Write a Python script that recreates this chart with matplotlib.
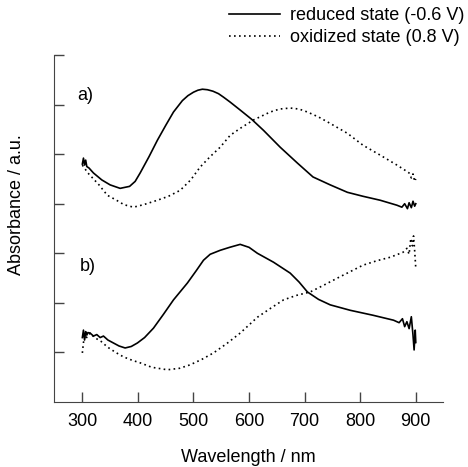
import matplotlib
matplotlib.use("Agg")
import matplotlib.pyplot as plt
import numpy as np

plt.rcParams['font.family'] = ['Liberation Sans', 'DejaVu Sans']

# a) reduced state
wl_a_red = [300, 302, 304, 306, 308, 312, 320, 335, 350, 368, 385, 395, 404, 420, 435, 450,
            464, 480, 490, 500, 508, 516, 525, 535, 545, 554, 566, 584, 605, 626, 656, 687, 715,
            746, 777, 805, 836, 866, 875, 880, 885, 888, 892, 895, 898, 900]
a_red = [4.80, 4.92, 4.78, 4.88, 4.75, 4.72, 4.62, 4.48, 4.38, 4.31, 4.35, 4.45, 4.62, 4.95, 5.28, 5.58,
         5.85, 6.08, 6.18, 6.25, 6.29, 6.31, 6.30, 6.27, 6.22, 6.15, 6.05, 5.89, 5.70, 5.48, 5.14, 4.82, 4.54,
         4.38, 4.23, 4.15, 4.07, 3.97, 3.93, 4.00, 3.90, 4.02, 3.92, 4.05, 3.95, 4.00]

# a) oxidized state
wl_a_ox = [300, 305, 310, 320, 330, 345, 360, 375, 392, 410, 435, 455, 476, 495, 512, 530, 548,
           566, 584, 608, 638, 655, 674, 690, 705, 725, 746, 777, 805, 836, 866, 880, 888, 892,
           895, 898, 900]
a_ox = [4.78, 4.70, 4.62, 4.50, 4.38, 4.17, 4.08, 3.98, 3.93, 3.98, 4.07, 4.15, 4.27, 4.48, 4.74, 4.95, 5.14,
        5.38, 5.52, 5.69, 5.85, 5.91, 5.93, 5.91, 5.85, 5.75, 5.62, 5.42, 5.18, 4.98, 4.78, 4.68, 4.62, 4.52,
        4.60, 4.45, 4.50]

# b) reduced state
wl_b_red = [300, 302, 304, 306, 308, 310, 314, 320, 326, 332, 338, 346, 356, 366, 377, 388, 399,
            412, 428, 446, 464, 489, 505, 518, 530, 548, 565, 584, 600, 615, 644, 674, 690, 705,
            725, 746, 782, 823, 860, 870, 876, 880, 884, 888, 892, 895, 897, 899, 900]
b_red = [1.30, 1.45, 1.25, 1.42, 1.35, 1.40, 1.39, 1.33, 1.36, 1.30, 1.33, 1.25, 1.19, 1.13, 1.09, 1.12, 1.19,
         1.30, 1.49, 1.77, 2.06, 2.40, 2.65, 2.86, 2.98, 3.06, 3.12, 3.18, 3.12, 3.00, 2.82, 2.60, 2.42, 2.22,
         2.07, 1.96, 1.85, 1.75, 1.65, 1.60, 1.68, 1.52, 1.62, 1.48, 1.72, 1.35, 1.05, 1.45, 1.20]

# b) oxidized state
wl_b_ox = [300, 302, 305, 308, 314, 322, 334, 345, 360, 374, 390, 404, 425, 453, 475, 494, 515, 536,
           560, 584, 615, 640, 662, 685, 710, 735, 759, 782, 805, 830, 854, 877, 884, 888, 891, 894,
           896, 898, 900]
b_ox = [0.99, 1.20, 1.35, 1.30, 1.39, 1.30, 1.22, 1.11, 1.00, 0.91, 0.84, 0.79, 0.70, 0.65, 0.68, 0.75, 0.86, 0.99,
        1.18, 1.39, 1.71, 1.90, 2.06, 2.15, 2.22, 2.36, 2.50, 2.63, 2.76, 2.85, 2.92, 3.02, 3.10, 2.98, 3.30, 3.15,
        3.35, 3.05, 2.70]

xticks = [300, 400, 500, 600, 700, 800, 900]
yticks = [1, 2, 3, 4, 5, 6, 7]

fs = 13
fig = plt.figure(figsize=(4.68, 4.67), dpi=100)
ax = fig.add_axes([0.1154, 0.1392, 0.8312, 0.743])

dot = (0, (1, 2))
ax.plot(wl_a_red, a_red, 'k-', lw=1.2, label="reduced state (-0.6 V)")
ax.plot(wl_a_ox, a_ox, color='k', ls=dot, lw=1.2, label="oxidized state (0.8 V)")
ax.plot(wl_b_red, b_red, 'k-', lw=1.2)
ax.plot(wl_b_ox, b_ox, color='k', ls=dot, lw=1.2)

ax.text(291, 6.19, "a)", fontsize=fs, va='center')
ax.text(295, 2.74, "b)", fontsize=fs, va='center')

ax.set_xlim(249, 949)
ax.set_ylim(0, 7)
ax.set_xticks(xticks)
ax.set_yticks(yticks)
ax.set_yticklabels([])
ax.tick_params(direction='in', length=7, width=1, color='#444444', labelsize=fs)
ax.tick_params(axis='x', pad=8)
for s in ['top', 'right']:
    ax.spines[s].set_visible(False)
for s in ['left', 'bottom']:
    ax.spines[s].set_color('#444444')

ax.set_xlabel("Wavelength / nm", fontsize=fs)
ax.set_ylabel("Absorbance / a.u.", fontsize=fs)
ax.xaxis.set_label_coords(0.5, -0.135)
ax.yaxis.set_label_coords(-0.075, 0.57)

ax.legend(loc='upper left', bbox_to_anchor=(0.489, 0.985), bbox_transform=fig.transFigure,
          frameon=False, fontsize=fs, handlelength=2.85, handletextpad=0.55,
          borderpad=0, borderaxespad=0, labelspacing=0.3)

fig.savefig("out.png", dpi=100)
